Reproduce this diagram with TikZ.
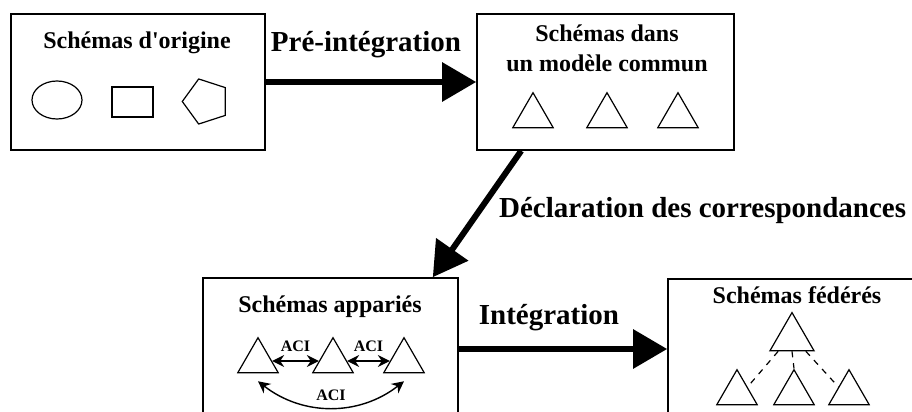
\documentclass[tikz,border=0pt]{standalone}
\usepackage{fontspec}
\setmainfont{Liberation Serif}
\usetikzlibrary{positioning,arrows.meta,shapes.geometric,calc}

\tikzset{
  panel/.style={draw, line width=0.8pt, inner sep=0pt},
  title/.style={font=\fontsize{12}{15}\selectfont\bfseries, align=center},
  steplabel/.style={font=\fontsize{14.5}{17}\selectfont\bfseries},
  bigarrow/.style={line width=3pt, -{Triangle[length=17pt,width=19pt]}},
  tri/.style={draw, regular polygon, regular polygon sides=3, inner sep=0pt, minimum size=23.3pt, line width=0.6pt},
  form/.style={draw, inner sep=0pt, line width=0.6pt},
  aci/.style={font=\fontsize{8}{9}\selectfont\bfseries},
  link/.style={line width=0.7pt, {Stealth[length=6pt,width=6pt]}-{Stealth[length=6pt,width=6pt]}},
}

\begin{document}
\begin{tikzpicture}[x=0.5pt, y=-0.5pt]
    \path[use as bounding box, clip] (0,0) rectangle (912,412);
    % the four panels
    \node[panel, minimum width=127pt, minimum height=68pt] (orig) at (138,82) {};
    \node[panel, minimum width=128.5pt, minimum height=68pt] (comm) at (605.5,82) {};
    \node[panel, minimum width=127.5pt, minimum height=71pt] (appa) at (330.5,349) {};
    \node[panel, minimum width=128.5pt, minimum height=70pt] (fede) at (796.5,349) {};
    \node[title] (origt) at (137,43) {Schémas d\textquotesingle origine};
    \node[title] (commt) at (607,48) {Schémas dans\\un modèle commun};
    \node[title] (appat) at (330,307) {Schémas appariés};
    \node[title] (fedet) at (797,295) {Schémas fédérés};
    % schemas d'origine
    \node[form, ellipse, minimum width=25pt, minimum height=19pt] (ell) at (57,100) {};
    \node[form, rectangle, minimum width=20.5pt, minimum height=15pt] (rect) at (132.5,102) {};
    \node[form, regular polygon, regular polygon sides=5, minimum size=23.7pt, rotate=18] (pent) at (206,101.5) {};
    % modele commun
    \node[tri] (c1) at (533,116) {};
    \node[tri] (c2) at (607,116) {};
    \node[tri] (c3) at (678,116) {};
    % schemas apparies
    \node[tri] (a1) at (258,361) {};
    \node[tri] (a2) at (333,361) {};
    \node[tri] (a3) at (404,361) {};
    \draw[link] (a1) -- node[aci, above=1pt] (aci1) {ACI} (a2);
    \draw[link] (a2) -- node[aci, above=1pt] (aci2) {ACI} (a3);
    \draw[link] ([yshift=-4pt]a1.side 2) to[bend right=38] node[aci, above=0pt] (aci3) {ACI} ([yshift=-4pt]a3.side 2);
    % schemas federes
    \node[tri, minimum size=25.4pt] (f0) at (792,338) {};
    \node[tri] (f1) at (737,393) {};
    \node[tri] (f2) at (794,393) {};
    \node[tri] (f3) at (849,393) {};
    \draw[dashed, line width=0.6pt] ($(f0.corner 2)!0.2!(f0.corner 3)$) -- (f1.side 3);
    \draw[dashed, line width=0.6pt] (f0.side 2) -- (f2.corner 1);
    \draw[dashed, line width=0.6pt] ($(f0.corner 2)!0.8!(f0.corner 3)$) -- (f3.side 1);
    % steps
    \draw[bigarrow] (orig.east) -- (comm.west);
    \node[steplabel] (pre) at (366,45) {Pré-intégration};
    \draw[bigarrow] ([xshift=22.5pt]comm.south west) -- ([xshift=-13pt]appa.north east);
    \node[steplabel, anchor=west] (decl) at (492,211) {Déclaration des correspondances};
    \draw[bigarrow] (appa.east) -- (fede.west);
    \node[steplabel] (integ) at (549,318) {Intégration};
\end{tikzpicture}
\end{document}
